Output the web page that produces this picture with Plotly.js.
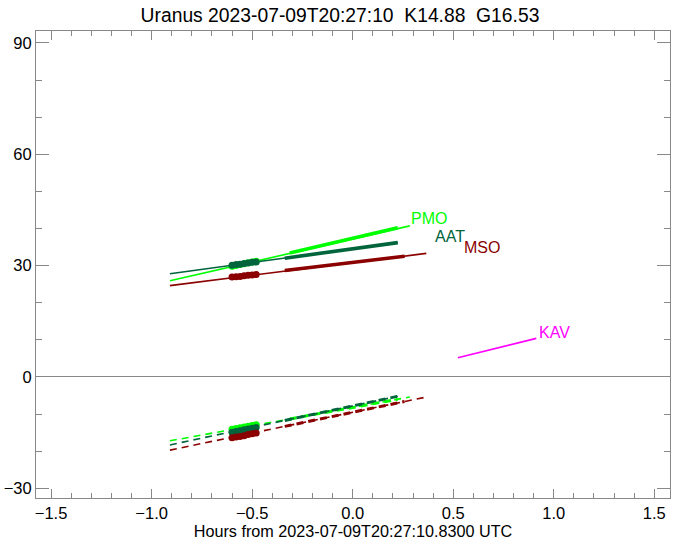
<!DOCTYPE html>
<html>
<head>
<meta charset="utf-8">
<script src="https://cdn.plot.ly/plotly-3.0.1.min.js"></script>
<style>html,body{margin:0;padding:0;background:#fff;}#chart{width:680px;height:544px;}</style>
</head>
<body>
<div id="chart"></div>
<script>
// ---- data ----
const stationNames = ['PMO', 'AAT', 'MSO', 'KAV'];
const stationColors = ['#00ff00', '#00643c', '#8b0000', '#ff00ff'];

// thin full tracks (solid)
const pmoTrackX = [-0.909, 0.284], pmoTrackY = [25.9, 40.7];
const aatTrackX = [-0.909, 0.224], aatTrackY = [27.8, 36.2];
const msoTrackX = [-0.909, 0.366], msoTrackY = [24.6, 33.3];
const kavTrackX = [0.523, 0.913],  kavTrackY = [5.2, 10.4];

// thick solid portions
const pmoThickX = [-0.313, 0.224], pmoThickY = [33.4, 40.2];
const aatThickX = [-0.338, 0.224], aatThickY = [32.0, 36.2];
const msoThickX = [-0.338, 0.258], msoThickY = [28.7, 32.5];

// thin dashed tracks
const pmoDashX = [-0.909, 0.284], pmoDashY = [-17.2, -5.4];
const aatDashX = [-0.909, 0.224], aatDashY = [-18.3, -5.2];
const msoDashX = [-0.909, 0.366], msoDashY = [-19.7, -5.4];

// thick dashed portions
const pmoDashThickX = [-0.313, 0.224], pmoDashThickY = [-11.3, -6.0];
const aatDashThickX = [-0.338, 0.224], aatDashThickY = [-11.7, -5.2];
const msoDashThickX = [-0.338, 0.258], msoDashThickY = [-13.3, -6.6];

// marker clusters
const clusterX = [-0.60, -0.58, -0.56, -0.54, -0.52, -0.50, -0.48];
const pmoDotY = [29.8, 30.0, 30.3, 30.5, 30.8, 31.0, 31.2];
const aatDotY = [30.1, 30.3, 30.4, 30.6, 30.7, 30.9, 31.0];
const msoDotY = [26.9, 27.0, 27.1, 27.3, 27.4, 27.5, 27.6];
const pmoDashDotY = [-14.1, -13.9, -13.7, -13.5, -13.3, -13.1, -12.9];
const aatDashDotY = [-14.9, -14.7, -14.5, -14.2, -14.0, -13.8, -13.6];
const msoDashDotY = [-16.4, -16.2, -16.0, -15.8, -15.5, -15.3, -15.1];

// labels
const labelX = [0.280, 0.400, 0.544, 0.917];
const labelY = [42.6, 37.9, 34.9, 12.0];

const titleText = 'Uranus 2023-07-09T20:27:10  K14.88  G16.53';
const xTitleText = 'Hours from 2023-07-09T20:27:10.8300 UTC';

// ---- build traces ----
const FONT = '"Liberation Sans", Arial, Helvetica, sans-serif';
const traces = [];
function line(x, y, color, width, dash) {
  traces.push({x: x, y: y, mode: 'lines', type: 'scatter', hoverinfo: 'skip',
    line: {color: color, width: width, dash: dash || 'solid'}, showlegend: false});
}
function dots(x, y, color) {
  traces.push({x: x, y: y, mode: 'markers', type: 'scatter', hoverinfo: 'skip',
    marker: {color: color, size: 7, line: {width: 0}}, showlegend: false});
}
const DASH = '7px,5px';
const sets = [
  [pmoTrackX, pmoTrackY, pmoThickX, pmoThickY, pmoDashX, pmoDashY, pmoDashThickX, pmoDashThickY, pmoDotY, pmoDashDotY],
  [aatTrackX, aatTrackY, aatThickX, aatThickY, aatDashX, aatDashY, aatDashThickX, aatDashThickY, aatDotY, aatDashDotY],
  [msoTrackX, msoTrackY, msoThickX, msoThickY, msoDashX, msoDashY, msoDashThickX, msoDashThickY, msoDotY, msoDashDotY]
];
sets.forEach((s, i) => {
  const c = stationColors[i];
  line(s[0], s[1], c, 1.6);
  line(s[2], s[3], c, 3.6);
  line(s[4], s[5], c, 1.6, DASH);
  line(s[6], s[7], c, 3.0, DASH);
  dots(clusterX, s[8], c);
  dots(clusterX, s[9], c);
});
line(kavTrackX, kavTrackY, stationColors[3], 1.6);

const annotations = stationNames.map((n, i) => ({
  x: labelX[i], y: labelY[i], xref: 'x', yref: 'y', text: n, showarrow: false,
  xanchor: 'left', yanchor: 'middle', font: {family: FONT, size: 16, color: stationColors[i]}
}));

const axisColor = '#888888';
const layout = {
  width: 680, height: 544,
  margin: {l: 36, r: 10, t: 31, b: 46},
  paper_bgcolor: '#ffffff', plot_bgcolor: '#ffffff',
  font: {family: FONT, size: 16, color: '#000'},
  title: {text: titleText, x: 0.5, xref: 'container', xanchor: 'center',
    y: 1 - 15 / 544, yref: 'container', yanchor: 'middle',
    font: {family: FONT, size: 19.3, color: '#000'}},
  xaxis: {
    range: [-1.575, 1.578], tick0: 0, dtick: 0.5, tickformat: '.1f',
    ticks: 'inside', ticklen: 9, tickcolor: axisColor, tickwidth: 1,
    showline: true, linecolor: axisColor, linewidth: 1, mirror: 'allticks',
    showgrid: false, zeroline: false,
    minor: {dtick: 0.1, tick0: 0, ticks: 'inside', ticklen: 5, tickcolor: axisColor, showgrid: false},
    title: {text: xTitleText, standoff: 3, font: {family: FONT, size: 16.2, color: '#000'}},
    tickfont: {family: FONT, size: 16.5, color: '#000'}
  },
  yaxis: {
    range: [-32.6, 93.2], tick0: 0, dtick: 30,
    ticks: 'inside', ticklen: 13, tickcolor: axisColor, tickwidth: 1,
    showline: true, linecolor: axisColor, linewidth: 1, mirror: 'allticks',
    showgrid: false, zeroline: true, zerolinecolor: axisColor, zerolinewidth: 1,
    minor: {dtick: 10, tick0: 0, ticks: 'inside', ticklen: 6, tickcolor: axisColor, showgrid: false},
    tickfont: {family: FONT, size: 16.5, color: '#000'}
  },
  annotations: annotations
};

Plotly.newPlot('chart', traces, layout, {staticPlot: true, displayModeBar: false});
</script>
</body>
</html>
